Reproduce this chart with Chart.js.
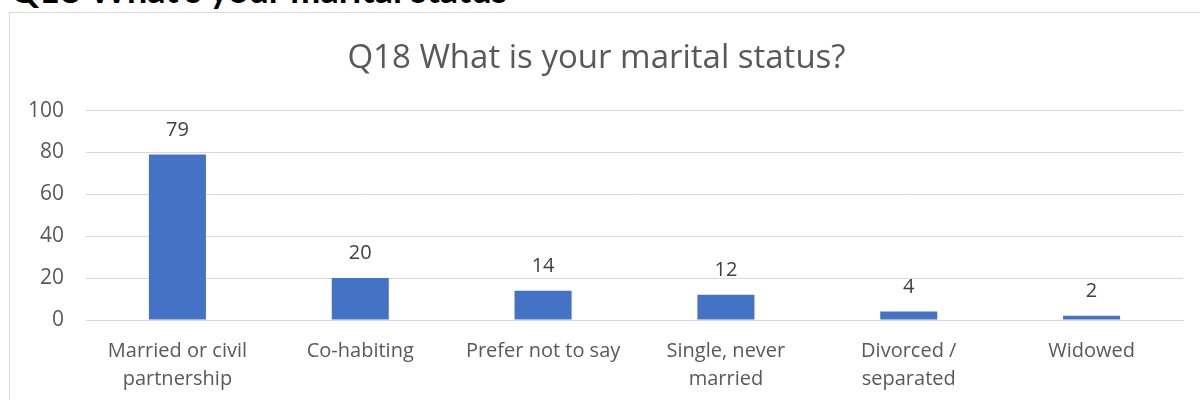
<!DOCTYPE html>
<html>
<head>
<meta charset="utf-8">
<script src="https://cdn.jsdelivr.net/npm/chart.js@4"></script>
<style>
	html, body { margin: 0; padding: 0; background: #fff; overflow: hidden; width: 1200px; height: 400px; }
	#heading { position: absolute; left: 10px; top: -29px; font: bold 36px Lato, sans-serif; line-height: 36px; color: #000; white-space: nowrap; }
	#box { position: absolute; left: 9px; top: 12px; width: 1300px; height: 500px; border: 1px solid #d9d9d9; background: #fff; }
	#myChart { position: absolute; left: 0; top: 0; }
</style>
</head>
<body>
<div id="heading">Q18 What's your marital status</div>
<div id="box"><canvas id="myChart" width="1190" height="397"></canvas></div>
<script>
const categories = [
	['Married or civil', 'partnership'],
	'Co-habiting',
	'Prefer not to say',
	['Single, never', 'married'],
	['Divorced /', 'separated'],
	'Widowed'
];
const counts = [79, 20, 14, 12, 4, 2];
const yTicks = [0, 20, 40, 60, 80, 100];

drawChart();

function drawChart() {
	const fontFamily = '"Open Sans", sans-serif';

	// value labels above each bar
	const barLabels = {
		id: 'barLabels',
		afterDatasetsDraw(chart) {
			const ctx = chart.ctx;
			const meta = chart.getDatasetMeta(0);
			ctx.save();
			ctx.font = '20px ' + fontFamily;
			ctx.fillStyle = '#404040';
			ctx.textAlign = 'center';
			ctx.textBaseline = 'alphabetic';
			meta.data.forEach((bar, i) => {
				ctx.fillText(String(counts[i]), bar.x, bar.y - 19);
			});
			ctx.restore();
		}
	};

	const data = {
		labels: categories,
		datasets: [{
			label: 'Count',
			data: counts,
			backgroundColor: '#4472c4',
			borderWidth: 0,
			categoryPercentage: 1,
			barPercentage: 0.312
		}]
	};

	// config
	const config = {
		type: 'bar',
		data,
		options: {
			responsive: false,
			animation: false,
			layout: { padding: { left: 0, right: 17, top: 0, bottom: 0 } },
			plugins: {
				legend: { display: false },
				tooltip: { enabled: false },
				title: {
					display: true,
					text: 'Q18 What is your marital status?',
					color: '#595959',
					font: { family: fontFamily, size: 33, weight: 'normal' },
					padding: { top: 26, bottom: 32 }
				}
			},
			scales: {
				x: {
					grid: { display: false, drawTicks: false },
					border: { display: true, color: '#d9d9d9', width: 1 },
					ticks: {
						color: '#595959',
						font: { family: fontFamily, size: 20, lineHeight: 1.4 },
						padding: 17,
						maxRotation: 0,
						autoSkip: false
					}
				},
				y: {
					min: 0,
					max: 100,
					afterBuildTicks(scale) {
						scale.ticks = yTicks.map(v => ({ value: v }));
					},
					afterFit(scale) {
						scale.width = 76;
					},
					grid: { color: '#d9d9d9', lineWidth: 1, drawTicks: false },
					border: { display: false },
					ticks: {
						color: '#595959',
						font: { family: fontFamily, size: 21 },
						padding: 22
					}
				}
			}
		},
		plugins: [barLabels]
	};

	// render init block
	const myChart = new Chart(
		document.getElementById('myChart'),
		config
	);
}
</script>
</body>
</html>
